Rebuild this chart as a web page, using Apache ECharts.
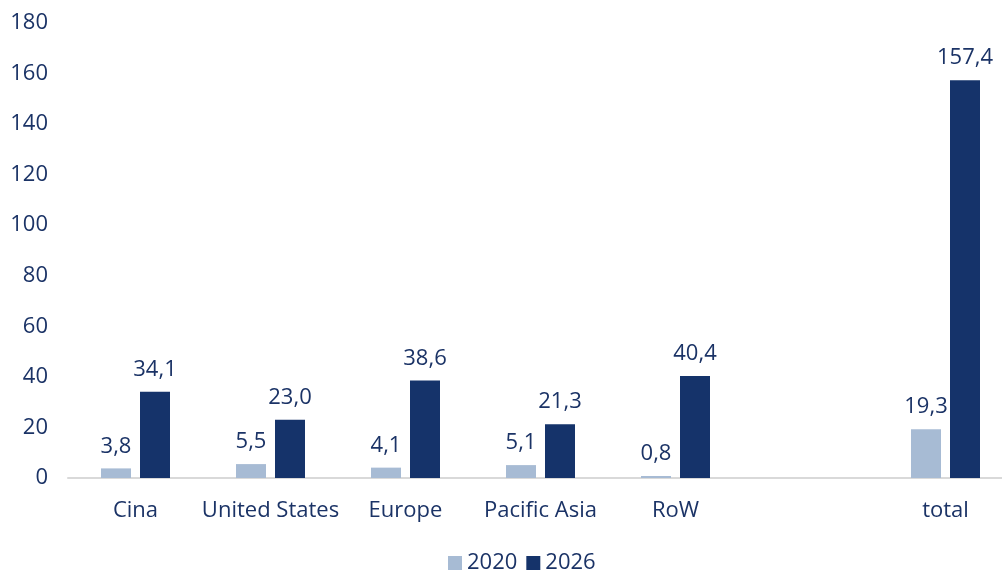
<!DOCTYPE html>
<html>
<head>
<meta charset="utf-8">
<script src="https://cdn.jsdelivr.net/npm/echarts@6/dist/echarts.min.js"></script>
<style>
  html, body { margin: 0; padding: 0; background: #ffffff; overflow: hidden; }
  /* the plot runs slightly past the right edge of the window */
  #chart { width: 1013px; height: 572px; }
</style>
</head>
<body>
<div id="chart"></div>
<script>
// Regions (a blank slot separates the regions from the total)
const categories = ['Cina', 'United States', 'Europe', 'Pacific Asia', 'RoW', '', 'total'];
const values2020 = [3.8, 5.5, 4.1, 5.1, 0.8, null, 19.3];
const values2026 = [34.1, 23.0, 38.6, 21.3, 40.4, null, 157.4];
const yTicks = [0, 20, 40, 60, 80, 100, 120, 140, 160, 180];

const textColor = '#1b3366';
const font = 'Open Sans';
const fontSize = 22;

const fmt = v => (v == null ? '' : v.toFixed(1).replace('.', ','));

const chart = echarts.init(document.getElementById('chart'));

const barLabel = {
  show: true,
  position: 'top',
  distance: 11,
  color: textColor,
  fontFamily: font,
  fontSize: fontSize,
  formatter: p => fmt(p.value)
};

chart.setOption({
  animation: false,
  textStyle: { fontFamily: font },
  grid: { left: 68, right: 0, top: 23, bottom: 94, containLabel: false },
  legend: {
    top: 547,
    left: 443,
    itemWidth: 14,
    itemHeight: 14,
    itemGap: 9,
    icon: 'rect',
    textStyle: { color: textColor, fontSize: fontSize, fontFamily: font },
    data: ['2020', '2026']
  },
  xAxis: {
    type: 'category',
    data: categories,
    axisLine: { lineStyle: { color: '#d9d9d9', width: 2 } },
    axisTick: { show: false },
    axisLabel: { color: textColor, fontSize: fontSize, fontFamily: font, margin: 22, interval: 0 }
  },
  yAxis: {
    type: 'value',
    min: yTicks[0],
    max: yTicks[yTicks.length - 1],
    interval: 20,
    splitLine: { show: false },
    axisLine: { show: false },
    axisTick: { show: false },
    axisLabel: { color: textColor, fontSize: fontSize, fontFamily: font, margin: 20 }
  },
  series: [
    {
      name: '2020',
      type: 'bar',
      data: values2020,
      barWidth: 30,
      barGap: '30%',
      itemStyle: { color: '#a7bbd4' },
      label: barLabel
    },
    {
      name: '2026',
      type: 'bar',
      data: values2026,
      barWidth: 30,
      barGap: '30%',
      itemStyle: { color: '#15336a' },
      label: barLabel
    }
  ]
});
</script>
</body>
</html>
